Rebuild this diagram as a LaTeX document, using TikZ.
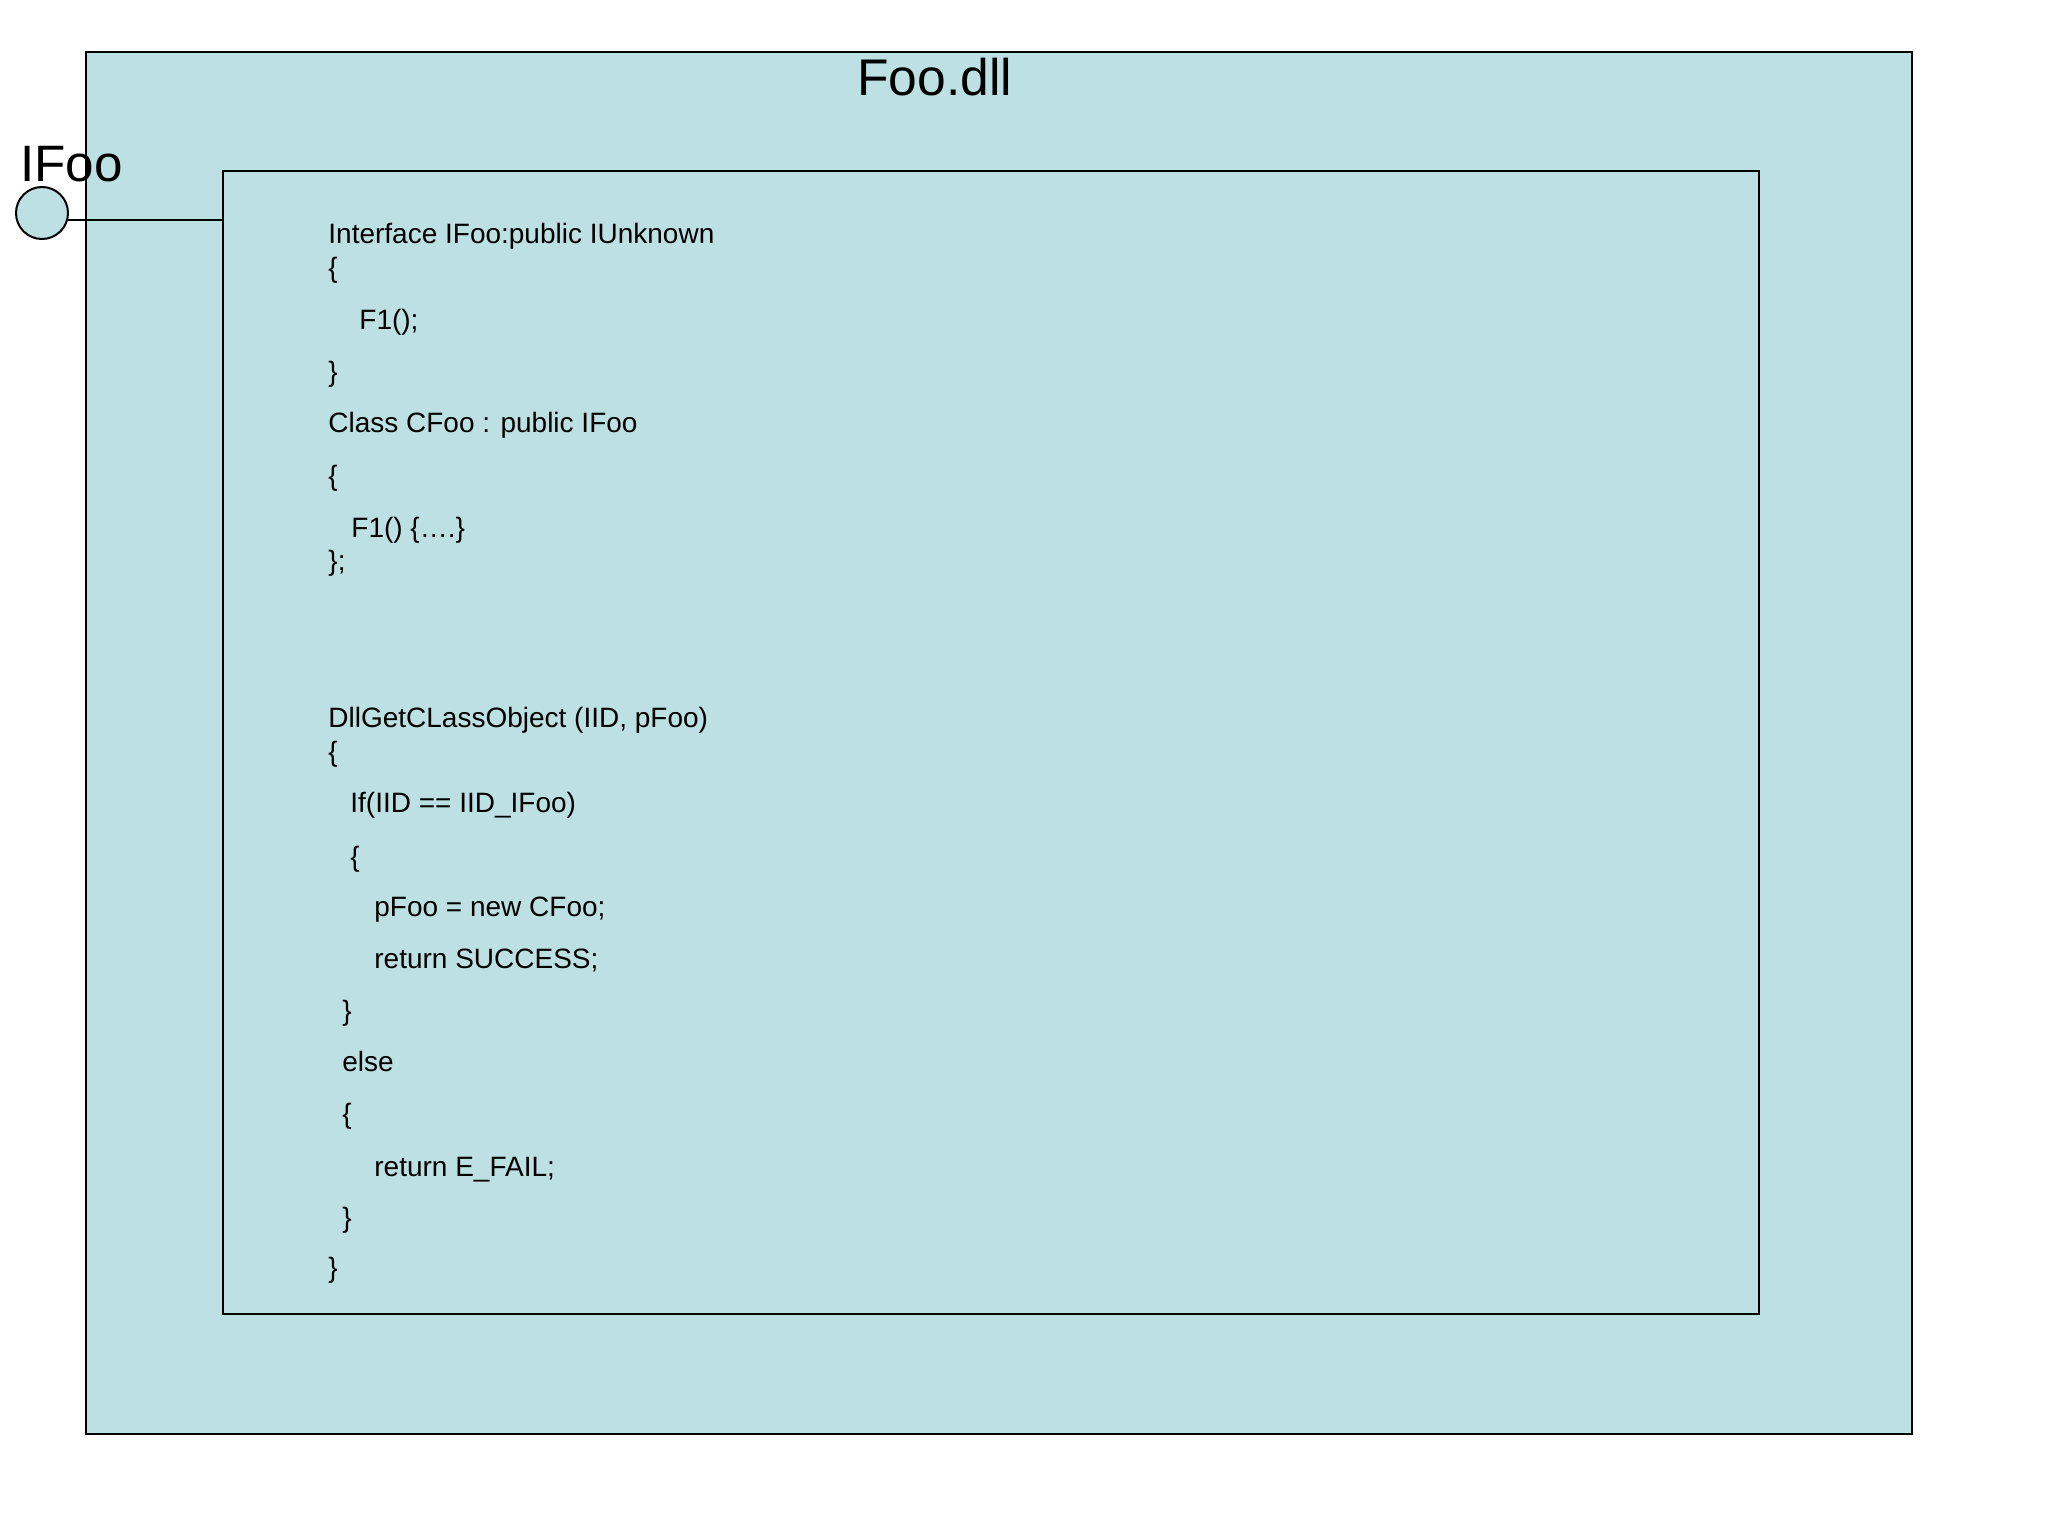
\documentclass[tikz,border=0pt]{standalone}
\usepackage{fontspec}
\setmainfont{Liberation Sans}
\definecolor{boxfill}{RGB}{189,224,227}
\begin{document}
\begin{tikzpicture}[x=0.5pt,y=-0.5pt,
  box/.style={draw=black,line width=1pt,fill=boxfill,rectangle,inner sep=0pt,anchor=north west},
  code/.style={anchor=base west,inner sep=0pt,font=\fontsize{14pt}{16pt}\selectfont},
  big/.style={anchor=base west,inner sep=0pt,font=\fontsize{25.8pt}{30pt}\selectfont}]
\useasboundingbox (0,0) rectangle (2048,1536);
\node[box,minimum width=913pt,minimum height=691pt] (outer) at (85,51) {};
\node[box,minimum width=768pt,minimum height=571.5pt] (inner) at (222,170) {};
\node[draw=black,line width=1pt,fill=boxfill,circle,minimum size=26pt,inner sep=0pt] (circ) at (42,213) {};
\draw[line width=1pt] (circ.-16) -- (circ.-16 -| inner.west);
\node[big] (title) at (857,96) {Foo.dll};
\node[big,font=\fontsize{25.6pt}{30pt}\selectfont] (ifoo) at (20,181) {IFoo};
\node[code] (l1) at (328,243) {Interface IFoo:public IUnknown};
\node[code] (l2) at (328,277) {\{};
\node[code] (l3) at (359,329) {F1();};
\node[code] (l4) at (328,381) {\}};
\node[code] (l5) at (328,432) {Class CFoo : public IFoo};
\node[code] (l6) at (328,485) {\{};
\node[code] (l7) at (351,537) {F1() \{….\}};
\node[code] (l8) at (328,570) {\};};
\node[code] (m1) at (328,727) {DllGetCLassObject (IID, pFoo)};
\node[code] (m2) at (328,761) {\{};
\node[code] (m3) at (350,812) {If(IID == IID\_IFoo)};
\node[code] (m4) at (350,866) {\{};
\node[code] (m5) at (374,916) {pFoo = new CFoo;};
\node[code] (m6) at (374,968) {return SUCCESS;};
\node[code] (m7) at (342,1020) {\}};
\node[code] (m8) at (342,1071) {else};
\node[code] (m9) at (342,1123) {\{};
\node[code] (m10) at (374,1176) {return E\_FAIL;};
\node[code] (m11) at (342,1227) {\}};
\node[code] (m12) at (328,1277) {\}};
\end{tikzpicture}
\end{document}
